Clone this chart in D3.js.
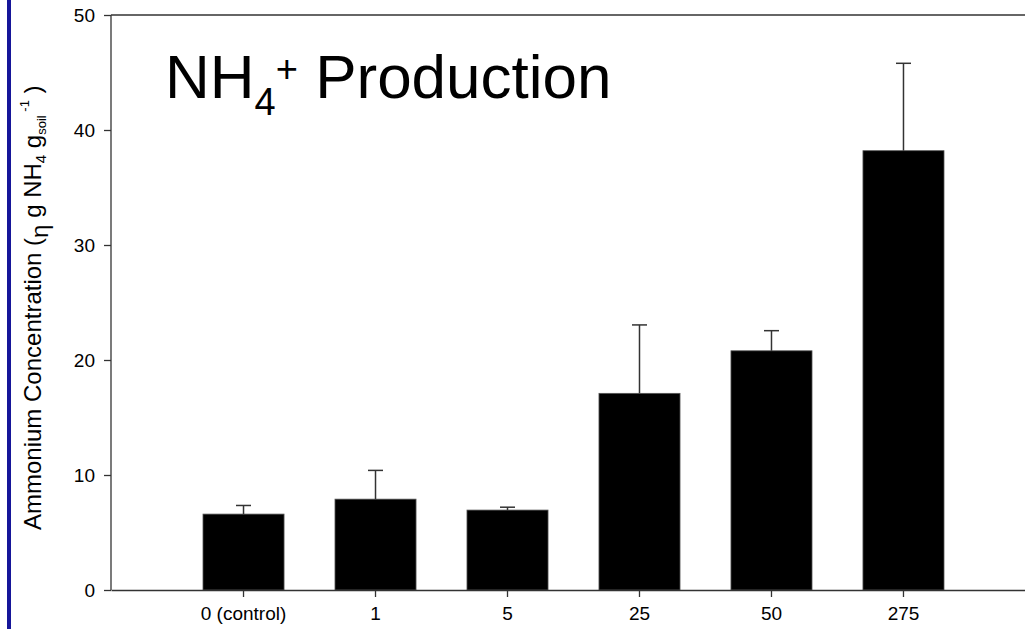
<!DOCTYPE html>
<html>
<head>
<meta charset="utf-8">
<script src="https://cdn.jsdelivr.net/npm/d3@7"></script>
<style>
  body { margin: 0; background: #fff; }
  svg { display: block; font-family: "Liberation Sans", Arial, sans-serif; }
</style>
</head>
<body>
<div id="chart"></div>
<script>
// ---- data ----
const categories = ["0 (control)", "1", "5", "25", "50", "275"];
const means = [6.6, 7.9, 6.95, 17.1, 20.8, 38.2];
const errors = [0.75, 2.5, 0.25, 5.95, 1.75, 7.6];
const yTicks = [0, 10, 20, 30, 40, 50];

const W = 1025, H = 629;
const svg = d3.select('#chart').append('svg')
    .attr('width', W).attr('height', H);

// blue strip on the left edge
svg.append('rect')
    .attr('x', 7).attr('y', 0).attr('width', 4).attr('height', H)
    .attr('fill', '#161699');

// scales - x range runs past the right edge (picture is cropped)
const x = d3.scaleBand()
    .domain(categories)
    .range([111, 1036])
    .paddingInner(0.386)
    .paddingOuter(0.697);

const y = d3.scaleLinear()
    .domain([0, 50])
    .range([590, 15]);

const axisColor = '#333';

// frame top
svg.append('line')
    .attr('x1', x.range()[0]).attr('x2', x.range()[1])
    .attr('y1', y(50)).attr('y2', y(50))
    .attr('stroke', axisColor).attr('stroke-width', 1.3);

// bars
const data = categories.map((c, i) => ({ cat: c, mean: means[i], err: errors[i] }));

svg.selectAll('rect.bar')
    .data(data)
    .join('rect')
    .attr('class', 'bar')
    .attr('x', d => x(d.cat))
    .attr('y', d => y(d.mean))
    .attr('width', x.bandwidth())
    .attr('height', d => y(0) - y(d.mean))
    .attr('fill', '#000')
    .attr('stroke', '#555')
    .attr('stroke-width', 0.8);

// error bars (upper only)
const cx = d => x(d.cat) + x.bandwidth() / 2;
svg.selectAll('line.err')
    .data(data)
    .join('line')
    .attr('class', 'err')
    .attr('x1', cx).attr('x2', cx)
    .attr('y1', d => y(d.mean)).attr('y2', d => y(d.mean + d.err))
    .attr('stroke', axisColor).attr('stroke-width', 1.5);

svg.selectAll('line.cap')
    .data(data)
    .join('line')
    .attr('class', 'cap')
    .attr('x1', d => cx(d) - 7.5).attr('x2', d => cx(d) + 7.5)
    .attr('y1', d => y(d.mean + d.err)).attr('y2', d => y(d.mean + d.err))
    .attr('stroke', axisColor).attr('stroke-width', 1.5);

// axes
const yAxis = d3.axisLeft(y).tickValues(yTicks).tickSize(7).tickPadding(9);
const gy = svg.append('g')
    .attr('transform', `translate(${x.range()[0]},0)`)
    .call(yAxis);

const xAxis = d3.axisBottom(x).tickSize(7).tickPadding(10).tickSizeOuter(0);
const gx = svg.append('g')
    .attr('transform', `translate(0,${y(0)})`)
    .call(xAxis);

[gx, gy].forEach(g => {
    g.select('.domain').attr('stroke', axisColor).attr('stroke-width', 1.3);
    g.selectAll('.tick line').attr('stroke', axisColor).attr('stroke-width', 1.3);
    g.selectAll('text')
        .attr('fill', '#000')
        .style('font-size', '19px')
        .style('font-family', '"Liberation Sans", Arial, sans-serif');
});
gy.select('.domain').attr('d', `M0,${y(0)}V${y(50)}`);

// title
const title = svg.append('text')
    .attr('x', 165)
    .attr('y', 98)
    .style('font-size', '62px')
    .attr('fill', '#000');
title.append('tspan').text('NH');
title.append('tspan').attr('dy', 17).style('font-size', '38px').text('4');
title.append('tspan').attr('dy', -33).style('font-size', '38px').text('+');
title.append('tspan').attr('dy', 16).text(' Production');

// y axis label
const ylab = svg.append('text')
    .attr('transform', 'translate(41,530) rotate(-90)')
    .attr('text-anchor', 'start')
    .style('font-size', '24px')
    .attr('fill', '#000');
ylab.append('tspan').text('Ammonium Concentration (');
ylab.append('tspan').attr('dy', 7).text('η');
ylab.append('tspan').attr('dy', -7).text(' g NH');
ylab.append('tspan').attr('dy', 5).style('font-size', '15px').text('4');
ylab.append('tspan').attr('dy', -5).text(' g');
ylab.append('tspan').attr('dy', 5).style('font-size', '13px').text('soil');
ylab.append('tspan').attr('dy', -17).style('font-size', '13px').text(' -1');
ylab.append('tspan').attr('dy', 12).text(' )');
</script>
</body>
</html>
